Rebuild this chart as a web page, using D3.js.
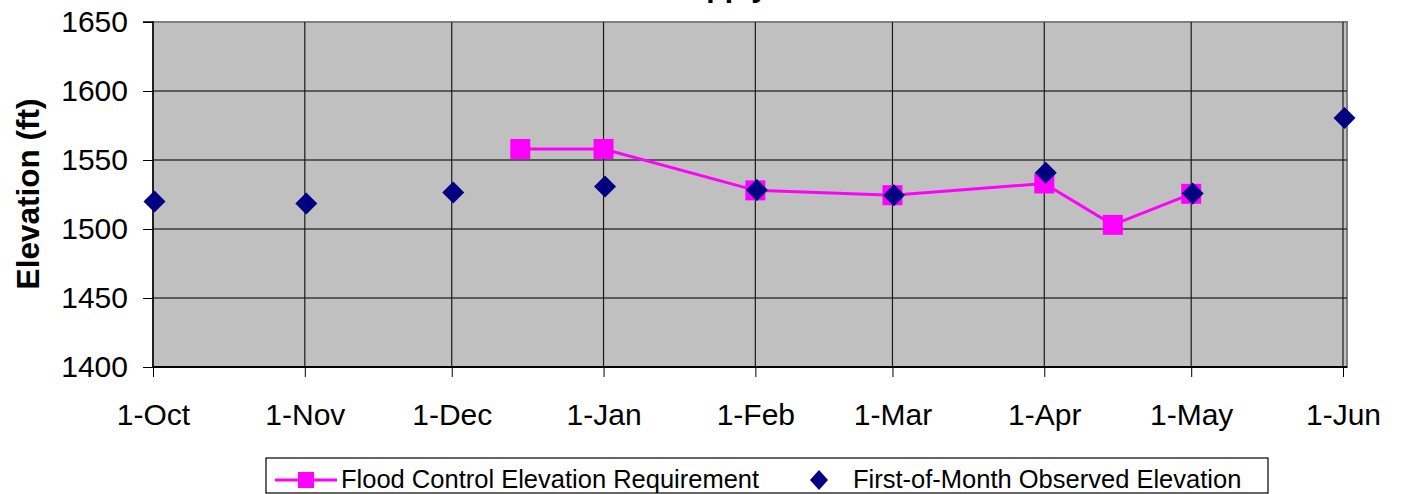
<!DOCTYPE html>
<html>
<head>
<meta charset="utf-8">
<script src="https://cdn.jsdelivr.net/npm/d3@7"></script>
<style>
  html, body { margin: 0; padding: 0; background: #fff; }
  svg { display: block; font-family: Arial, "Liberation Sans", sans-serif; }
</style>
</head>
<body>
<svg id="chart" width="1403" height="494"></svg>
<script>
// ---- data ----
const chartTitle = "Water Supply";
const yAxisTitle = "Elevation (ft)";
const yTicks = [1400, 1450, 1500, 1550, 1600, 1650];
const monthTicks = ["2005-10-01","2005-11-01","2005-12-01","2006-01-01","2006-02-01","2006-03-01","2006-04-01","2006-05-01","2006-06-01"];
const monthLabels = ["1-Oct","1-Nov","1-Dec","1-Jan","1-Feb","1-Mar","1-Apr","1-May","1-Jun"];

const floodDates = ["2005-12-15","2006-01-01","2006-02-01","2006-03-01","2006-04-01","2006-04-15","2006-05-01"];
const floodValues = [1558, 1558, 1528, 1524.5, 1533, 1503, 1525.5];

const obsDates = ["2005-10-01","2005-11-01","2005-12-01","2006-01-01","2006-02-01","2006-03-01","2006-04-01","2006-05-01","2006-06-01"];
const obsValues = [1520, 1518.5, 1526.5, 1530.8, 1528.2, 1524.5, 1540.8, 1525.8, 1580.4];

const legendLabels = ["Flood Control Elevation Requirement", "First-of-Month Observed Elevation"];

// ---- layout ----
const FONT = "Arial, 'Liberation Sans', sans-serif";
const parse = d3.utcParse("%Y-%m-%d");
const L = 153, R = 1343, T = 22, B = 367;
const svg = d3.select("#chart");

const x = d3.scaleUtc().domain([parse(monthTicks[0]), parse(monthTicks[monthTicks.length - 1])]).range([L, R]);
const y = d3.scaleLinear().domain([1400, 1650]).range([B, T]);

// plot background
svg.append("rect").attr("x", L).attr("y", T).attr("width", R - L + 4).attr("height", B - T)
  .attr("fill", "#c0c0c0").attr("stroke", "#808080").attr("stroke-width", 2);

// horizontal gridlines
svg.append("g").selectAll("line").data(yTicks.filter(v => v > 1400 && v < 1650)).join("line")
  .attr("x1", L).attr("x2", R + 4).attr("y1", d => y(d)).attr("y2", d => y(d))
  .attr("stroke", "#3a3a3a").attr("stroke-width", 1.4);

// vertical gridlines
svg.append("g").selectAll("line").data(monthTicks.slice(1)).join("line")
  .attr("x1", d => x(parse(d))).attr("x2", d => x(parse(d)))
  .attr("y1", T).attr("y2", B)
  .attr("stroke", "#1a1a1a").attr("stroke-width", 1.2);

// title (mostly clipped at the top, as in the reference)
svg.append("text").attr("x", 768).attr("y", -3).attr("text-anchor", "end")
  .attr("font-weight", "bold").attr("font-size", 30).attr("font-family", FONT).text(chartTitle);

// y axis
const yAxis = d3.axisLeft(y).tickValues(yTicks).tickSize(10).tickPadding(15).tickFormat(d3.format("d"));
const gy = svg.append("g").attr("transform", `translate(${L},0)`).call(yAxis);
gy.select(".domain").attr("stroke", "#000").attr("stroke-width", 1.5).attr("d", `M-10,${T}H0V${B}`);
gy.selectAll(".tick line").attr("stroke", "#000");
gy.selectAll(".tick text").attr("font-size", 30).attr("font-family", FONT).attr("fill", "#000");

// x axis
const xAxis = d3.axisBottom(x).tickValues(monthTicks.map(parse)).tickSize(10).tickPadding(27)
  .tickFormat((d, i) => monthLabels[i]);
const gx = svg.append("g").attr("transform", `translate(0,${B})`).call(xAxis);
gx.select(".domain").attr("stroke", "#000").attr("stroke-width", 2).attr("d", `M${L},0H${R + 4}`);
gx.selectAll(".tick line").attr("stroke", "#000");
gx.selectAll(".tick text").attr("font-size", 30).attr("font-family", FONT).attr("fill", "#000");

// y axis title
svg.append("text").attr("transform", `translate(39,${194}) rotate(-90)`)
  .attr("text-anchor", "middle").attr("font-weight", "bold").attr("font-size", 31.5)
  .attr("font-family", FONT).text(yAxisTitle);

// flood control line + squares
const flood = floodDates.map((d, i) => ({ date: parse(d), v: floodValues[i] }));
svg.append("path").datum(flood)
  .attr("d", d3.line().x(d => x(d.date)).y(d => y(d.v)))
  .attr("fill", "none").attr("stroke", "#ff00ff").attr("stroke-width", 3);
const sq = 20;
svg.append("g").selectAll("rect").data(flood).join("rect")
  .attr("x", d => x(d.date) - sq / 2).attr("y", d => y(d.v) - sq / 2)
  .attr("width", sq).attr("height", sq).attr("fill", "#ff00ff");

// observed diamonds
const obs = obsDates.map((d, i) => ({ date: parse(d), v: obsValues[i] }));
const dia = 11;
svg.append("g").selectAll("path").data(obs).join("path")
  .attr("transform", d => `translate(${x(d.date) + 1.5},${y(d.v)})`)
  .attr("d", `M0,${-dia}L${dia},0L0,${dia}L${-dia},0Z`)
  .attr("fill", "#000080");

// legend
const lg = svg.append("g");
lg.append("rect").attr("x", 266).attr("y", 458).attr("width", 1002).attr("height", 35)
  .attr("fill", "#fff").attr("stroke", "#000").attr("stroke-width", 1.2);
lg.append("line").attr("x1", 275).attr("x2", 337).attr("y1", 480).attr("y2", 480)
  .attr("stroke", "#ff00ff").attr("stroke-width", 3);
lg.append("rect").attr("x", 298).attr("y", 472).attr("width", 16).attr("height", 16).attr("fill", "#ff00ff");
lg.append("text").attr("x", 341).attr("y", 487.5).attr("font-size", 25.5).attr("font-family", FONT).text(legendLabels[0]);
lg.append("path").attr("transform", "translate(819,480)")
  .attr("d", "M0,-10L9,0L0,10L-9,0Z").attr("fill", "#000080");
lg.append("text").attr("x", 853).attr("y", 487.5).attr("font-size", 25.5).attr("font-family", FONT).text(legendLabels[1]);
</script>
</body>
</html>
